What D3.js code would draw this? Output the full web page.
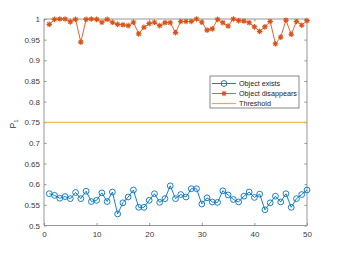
<!DOCTYPE html>
<html><head><meta charset="utf-8">
<script src="https://cdn.jsdelivr.net/npm/d3@7/dist/d3.min.js"></script>
<style>body{margin:0;background:#fff}svg{display:block}</style>
</head><body><svg id="c" width="339" height="254"></svg>
<script>
const objectExists = [0.577,0.573,0.566,0.570,0.565,0.580,0.565,0.583,0.558,0.561,
  0.579,0.558,0.581,0.528,0.555,0.569,0.586,0.544,0.544,0.561,
  0.577,0.556,0.565,0.596,0.565,0.575,0.569,0.589,0.589,0.552,
  0.567,0.557,0.556,0.584,0.574,0.563,0.557,0.571,0.581,0.568,
  0.576,0.538,0.555,0.571,0.557,0.577,0.544,0.565,0.575,0.586];
const objectDisappears = [0.987,0.999,1.0,1.0,0.993,0.999,0.944,0.999,1.0,0.999,
  0.992,0.999,0.992,0.987,0.986,0.984,0.992,0.964,0.980,0.989,
  0.992,0.984,0.991,0.991,0.967,0.994,0.994,0.994,1.0,0.992,
  0.973,0.976,0.999,0.991,0.983,1.0,0.996,0.995,0.991,0.981,
  0.970,0.981,0.994,0.940,0.956,0.997,0.963,0.994,0.985,0.996];
const thresholdValue = 0.75;
const xDomain = [0, 50];
const yDomain = [0.5, 1];
const xTicks = [0,10,20,30,40,50];
const yTicks = [0.5,0.55,0.6,0.65,0.7,0.75,0.8,0.85,0.9,0.95,1];
const seriesNames = ["Object exists","Object disappears","Threshold"];
const colors = ["#0072BD","#D95319","#EDB120"];

const svg = d3.select("#c");
const L=44, R=307, T=19, B=225.5;
const x = d3.scaleLinear().domain(xDomain).range([L,R]);
const y = d3.scaleLinear().domain(yDomain).range([B,T]);
const axisColor = "#8a8a8a", textColor = "#3a3a3a";
const font = "'Liberation Sans', Arial, Helvetica, sans-serif";

svg.append("rect").attr("width",339).attr("height",254).attr("fill","#fff");

// axes
const gB = svg.append("g").attr("transform",`translate(0,${B})`)
  .call(d3.axisBottom(x).tickValues(xTicks).tickSize(-2.6).tickPadding(6).tickFormat(d3.format("d")));
const gT = svg.append("g").attr("transform",`translate(0,${T})`)
  .call(d3.axisTop(x).tickValues(xTicks).tickSize(-2.6).tickFormat(""));
const gL = svg.append("g").attr("transform",`translate(${L},0)`)
  .call(d3.axisLeft(y).tickValues(yTicks).tickSize(-2.6).tickPadding(4).tickFormat(d=>String(+d.toFixed(2))));
const gR = svg.append("g").attr("transform",`translate(${R},0)`)
  .call(d3.axisRight(y).tickValues(yTicks).tickSize(-2.6).tickFormat(""));
[gB,gT,gL,gR].forEach(g=>{
  g.select(".domain").attr("stroke",axisColor).attr("stroke-width",0.9);
  g.selectAll(".tick line").attr("stroke",axisColor).attr("stroke-width",0.9);
  g.selectAll(".tick text").attr("fill",textColor).attr("font-family",font).attr("font-size","8px");
});
gB.selectAll(".domain").attr("d",`M${L},0H${R}`);
gT.selectAll(".domain").attr("d",`M${L},0H${R}`);
gL.selectAll(".domain").attr("d",`M0,${T}V${B}`);
gR.selectAll(".domain").attr("d",`M0,${T}V${B}`);

// y label
const yl = svg.append("text").attr("transform",`translate(16,124) rotate(-90)`)
  .attr("text-anchor","middle").attr("font-family",font).attr("font-size","8.5px").attr("fill",textColor);
yl.append("tspan").text("P");
yl.append("tspan").attr("font-size","6px").attr("dy","2").text("1");

const line = d3.line().x((d,i)=>x(i+1)).y(d=>y(d));

// blue series
svg.append("path").datum(objectExists).attr("d",line).attr("fill","none")
  .attr("stroke",colors[0]).attr("stroke-width",0.9);
svg.append("g").selectAll("circle").data(objectExists).join("circle")
  .attr("cx",(d,i)=>x(i+1)).attr("cy",d=>y(d)).attr("r",2.9)
  .attr("fill","none").attr("stroke",colors[0]).attr("stroke-width",0.9);

// orange series
function asterisk(cx,cy,r){
  const k=r*0.7071;
  return `M${cx-r},${cy}H${cx+r}M${cx},${cy-r}V${cy+r}M${cx-k},${cy-k}L${cx+k},${cy+k}M${cx-k},${cy+k}L${cx+k},${cy-k}`;
}
svg.append("path").datum(objectDisappears).attr("d",line).attr("fill","none")
  .attr("stroke",colors[1]).attr("stroke-width",0.9);
svg.append("g").selectAll("path").data(objectDisappears).join("path")
  .attr("d",(d,i)=>asterisk(x(i+1),y(d),2.8))
  .attr("fill","none").attr("stroke",colors[1]).attr("stroke-width",1.1);

// threshold
svg.append("line").attr("x1",x(xDomain[0])).attr("x2",x(xDomain[1]))
  .attr("y1",y(thresholdValue)).attr("y2",y(thresholdValue))
  .attr("stroke",colors[2]).attr("stroke-width",1.2);

// legend
const lg = svg.append("g").attr("transform","translate(210,76)");
lg.append("rect").attr("width",89).attr("height",32).attr("fill","#fff")
  .attr("stroke","#555").attr("stroke-width",0.7);
seriesNames.forEach((name,i)=>{
  const yy = 7.5 + i*10;
  lg.append("line").attr("x1",2).attr("x2",26).attr("y1",yy).attr("y2",yy)
    .attr("stroke",colors[i]).attr("stroke-width",i===2?1.2:0.9);
  if(i===0) lg.append("circle").attr("cx",14).attr("cy",yy).attr("r",2.9)
    .attr("fill","none").attr("stroke",colors[0]).attr("stroke-width",0.9);
  if(i===1) lg.append("path").attr("d",asterisk(14,yy,2.8))
    .attr("fill","none").attr("stroke",colors[1]).attr("stroke-width",1.1);
  lg.append("text").attr("x",29).attr("y",yy).attr("dy","0.35em")
    .attr("font-family",font).attr("font-size","7.2px").attr("fill","#222").text(name);
});
</script></body></html>
